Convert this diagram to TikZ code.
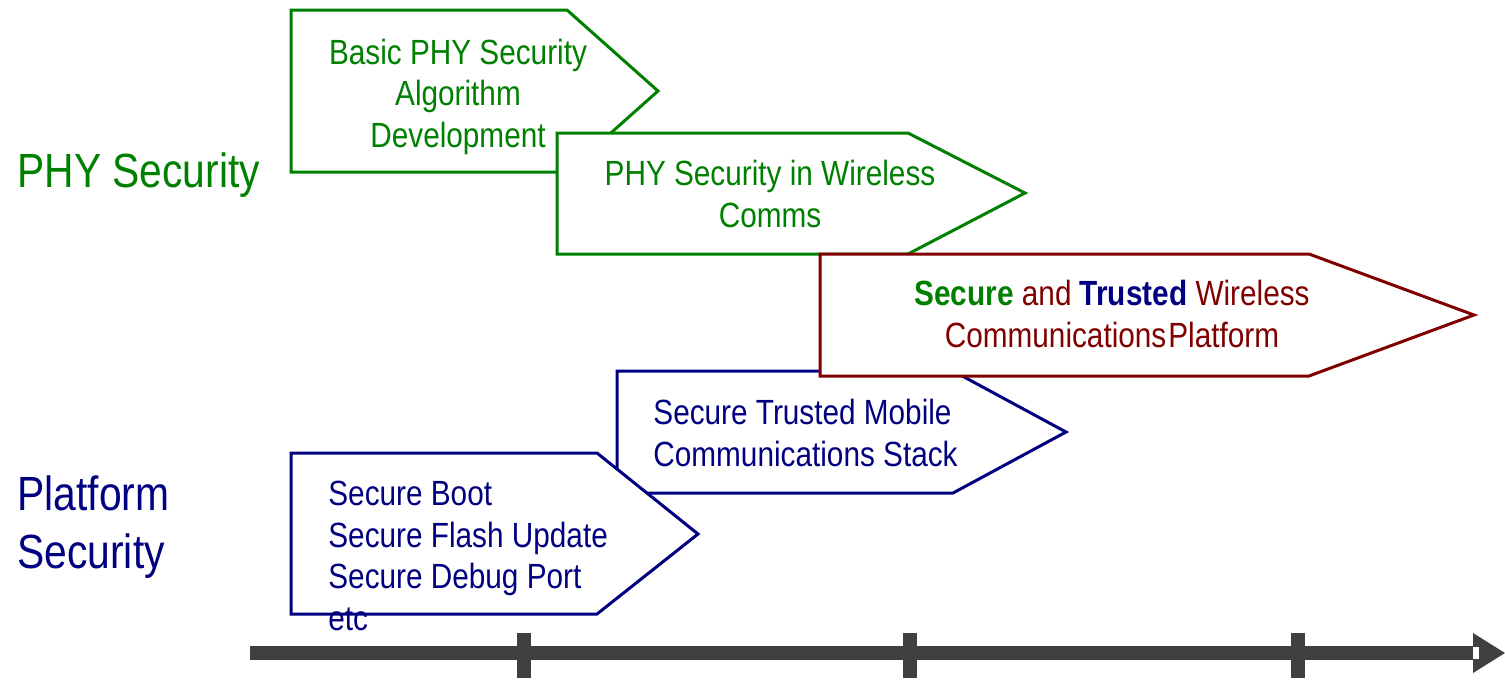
\documentclass[tikz,border=0pt]{standalone}
\usepackage{fontspec}
\setmainfont{Liberation Sans}[FakeStretch=0.85]
\definecolor{phygreen}{RGB}{0,128,0}
\definecolor{platblue}{RGB}{0,0,128}
\definecolor{joinred}{RGB}{128,0,0}
\definecolor{axisgray}{RGB}{64,64,64}
\newcommand\stagefont{\fontsize{17.5pt}{20.75pt}\selectfont}
\newcommand\rowfont{\fontsize{24pt}{29pt}\selectfont}
\tikzset{
  stage/.style={line width=1.5pt, fill=white},
  phybox/.style={stage, draw=phygreen},
  platbox/.style={stage, draw=platblue},
  joinbox/.style={stage, draw=joinred},
  stagetext/.style={inner sep=0pt, font=\stagefont},
  rowlabel/.style={inner sep=0pt, font=\rowfont, align=left, anchor=base west},
  axisline/.style={draw=axisgray, line width=7pt},
  tickmark/.style={draw=axisgray, line width=7pt}
}
\begin{document}
\begin{tikzpicture}[x=0.5pt, y=-0.5pt]
  \useasboundingbox (0,0) rectangle (1505,681);
  % row labels on the left (base = last line)
  \node[rowlabel, text=phygreen] (phyrow) at (17,187) {PHY Security};
  \node[rowlabel, text=platblue] (platrow) at (17,568) {Platform\\Security};

  % PHY security stages
  \draw[phybox] (291,10) -- (567,10) -- (658,91) -- (567,172) -- (291,172) -- cycle;
  \node[stagetext, text=phygreen, align=center, anchor=base] (basic) at (458,147)
    {Basic PHY Security\\Algorithm\\Development};
  \draw[phybox] (557,133) -- (908,133) -- (1025,193) -- (908,254) -- (557,254) -- cycle;
  \node[stagetext, text=phygreen, align=center, anchor=base] (wireless) at (770,227)
    {PHY Security in Wireless\\Comms};

  % platform security stages
  \draw[platbox] (617,371) -- (953,371) -- (1066,432) -- (953,493) -- (617,493) -- cycle;
  \node[stagetext, text=platblue, align=left, anchor=base west] (stack) at (653,466)
    {Secure Trusted Mobile\\Communications Stack};
  \draw[platbox] (291,453) -- (597,453) -- (698,534) -- (597,614) -- (291,614) -- cycle;
  \node[stagetext, text=platblue, align=left, anchor=base west] (boot) at (328,630)
    {Secure Boot\\Secure Flash Update\\Secure Debug Port\\etc};

  % combined platform
  \draw[joinbox] (820,254) -- (1309,254) -- (1474,315) -- (1309,376) -- (820,376) -- cycle;
  \node[stagetext, text=joinred, align=center, anchor=base] (platform) at (1112,347)
    {{\bfseries\color{phygreen}Secure} and {\bfseries\color{platblue}Trusted} Wireless\\
     Communications\kern1pt Platform};

  % time axis
  \draw[axisline] (250,653) -- (1473,653);
  \foreach \t in {524,910,1298}
    \draw[tickmark] (\t,633) -- (\t,678);
  \fill[axisgray] (1473,633) -- (1505,653) -- (1473,673) -- cycle;
  \fill[white] (1473,647) rectangle (1479,659);
\end{tikzpicture}
\end{document}
